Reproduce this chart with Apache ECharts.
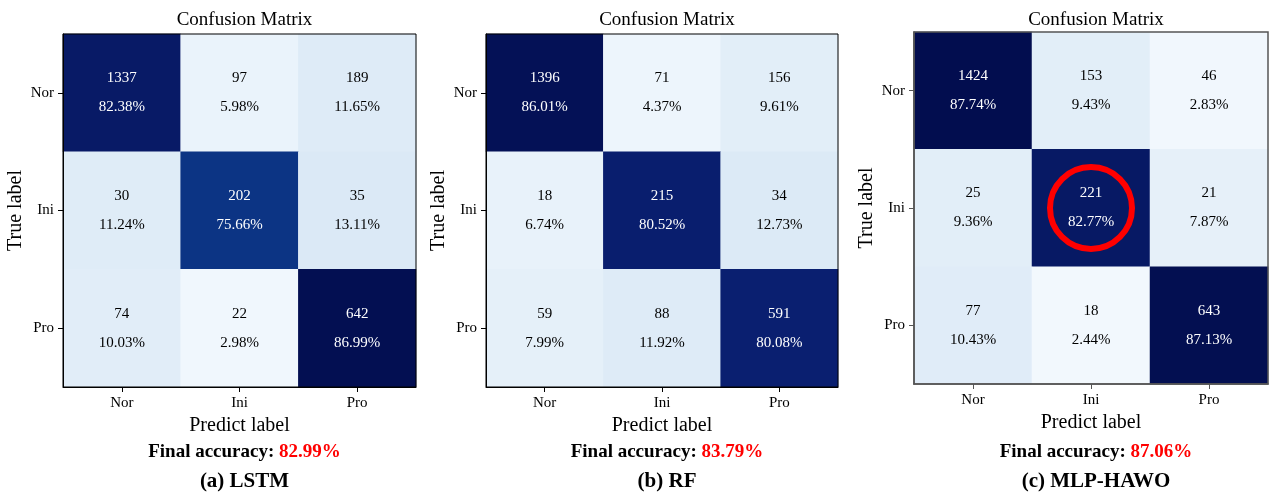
<!DOCTYPE html>
<html>
<head>
<meta charset="utf-8">
<script src="https://cdn.jsdelivr.net/npm/echarts@6/dist/echarts.min.js"></script>
<style>html,body{margin:0;padding:0;background:#fff;}#c{width:1274px;height:501px;}</style>
</head>
<body>
<div id="c"></div>
<script>
const categories = ['Nor', 'Ini', 'Pro'];
const lstmCounts = [[1337, 97, 189], [30, 202, 35], [74, 22, 642]];
const lstmPct = [[82.38, 5.98, 11.65], [11.24, 75.66, 13.11], [10.03, 2.98, 86.99]];
const rfCounts = [[1396, 71, 156], [18, 215, 34], [59, 88, 591]];
const rfPct = [[86.01, 4.37, 9.61], [6.74, 80.52, 12.73], [7.99, 11.92, 80.08]];
const mlpCounts = [[1424, 153, 46], [25, 221, 21], [77, 18, 643]];
const mlpPct = [[87.74, 9.43, 2.83], [9.36, 82.77, 7.87], [10.43, 2.44, 87.13]];
const accuracies = ['82.99%', '83.79%', '87.06%'];
const modelNames = ['(a) LSTM', '(b) RF', '(c) MLP-HAWO'];
const highlightCell = [1, 1]; // circled cell in (c)

const FONT = 'Liberation Serif';
const panels = [
  {counts: lstmCounts, pct: lstmPct, left: 63, top: 34, width: 353, height: 353, border: '#000', bw: 1},
  {counts: rfCounts, pct: rfPct, left: 486, top: 34, width: 352, height: 353, border: '#000', bw: 1},
  {counts: mlpCounts, pct: mlpPct, left: 914, top: 32, width: 354, height: 352, border: '#555', bw: 1.5}
];

function buildData(counts, pct) {
  const d = [];
  for (let r = 0; r < 3; r++) for (let c = 0; c < 3; c++) d.push([c, r, pct[r][c], counts[r][c]]);
  return d;
}

const grid = [], xAxis = [], yAxis = [], series = [], title = [];
panels.forEach((p, i) => {
  const cx = p.left + p.width / 2;
  grid.push({left: p.left, top: p.top, width: p.width, height: p.height, show: true,
    borderColor: p.border, borderWidth: p.bw, backgroundColor: 'transparent', z: 10});
  xAxis.push({type: 'category', gridIndex: i, data: categories, position: 'bottom',
    name: 'Predict label', nameLocation: 'middle', nameGap: 27,
    nameTextStyle: {fontFamily: FONT, fontSize: 20, color: '#000'},
    axisLine: {show: true, lineStyle: {color: p.border, width: p.bw}},
    axisTick: {show: true, alignWithLabel: true, length: 5, lineStyle: {color: p.border}},
    axisLabel: {fontFamily: FONT, fontSize: 15, color: '#000', margin: 9},
    splitLine: {show: false}, splitArea: {show: false}, z: 10});
  yAxis.push({type: 'category', gridIndex: i, data: categories, inverse: true,
    name: 'True label', nameLocation: 'middle', nameGap: 37,
    nameTextStyle: {fontFamily: FONT, fontSize: 20, color: '#000'},
    axisLine: {show: true, lineStyle: {color: p.border, width: p.bw}},
    axisTick: {show: true, alignWithLabel: true, length: 5, lineStyle: {color: p.border}},
    axisLabel: {fontFamily: FONT, fontSize: 15, color: '#000', margin: 9},
    splitLine: {show: false}, splitArea: {show: false}, z: 10});
  series.push({type: 'heatmap', xAxisIndex: i, yAxisIndex: i, data: buildData(p.counts, p.pct),
    encode: {x: 0, y: 1, value: 2},
    label: {show: true, fontFamily: FONT, fontSize: 15, lineHeight: 29,
      formatter: (prm) => {
        const s = prm.data[2] > 50 ? 'w' : 'k';
        return '{' + s + '|' + prm.data[3] + '}\n{' + s + '|' + prm.data[2].toFixed(2) + '%}';
      },
      rich: {w: {color: '#fff', fontFamily: FONT, fontSize: 15, lineHeight: 29},
             k: {color: '#000', fontFamily: FONT, fontSize: 15, lineHeight: 29}}},
    emphasis: {disabled: true}});
  title.push({text: 'Confusion Matrix', left: cx, top: 6, textAlign: 'center',
    textStyle: {fontFamily: FONT, fontSize: 19, fontWeight: 'normal', color: '#000'}});
  title.push({text: '{k|Final accuracy: }{r|' + accuracies[i] + '}', left: cx, top: 438, textAlign: 'center',
    textStyle: {rich: {k: {fontFamily: FONT, fontSize: 19, fontWeight: 'bold', color: '#000'},
                       r: {fontFamily: FONT, fontSize: 19, fontWeight: 'bold', color: '#ff0000'}}}});
  title.push({text: modelNames[i], left: cx, top: 466, textAlign: 'center',
    textStyle: {fontFamily: FONT, fontSize: 21, fontWeight: 'bold', color: '#000'}});
});

series.push({type: 'scatter', xAxisIndex: 2, yAxisIndex: 2, data: [highlightCell],
  symbol: 'circle', symbolSize: 82, silent: true, z: 5,
  itemStyle: {color: 'rgba(0,0,0,0)', borderColor: '#ff0000', borderWidth: 6, opacity: 1}});

const chart = echarts.init(document.getElementById('c'), null, {renderer: 'canvas'});
chart.setOption({
  animation: false,
  backgroundColor: '#fff',
  title, grid, xAxis, yAxis, series,
  visualMap: {show: false, type: 'continuous', seriesIndex: [0, 1, 2], dimension: 2, min: 0, max: 90,
    inRange: {color: ['#f7fbff', '#e1edf8', '#cfe1f2', '#b5d4e9', '#89bedc', '#5a9fd0', '#2f7bbc', '#0f4f9e', '#0a1f70', '#000845']}}
});
</script>
</body>
</html>
